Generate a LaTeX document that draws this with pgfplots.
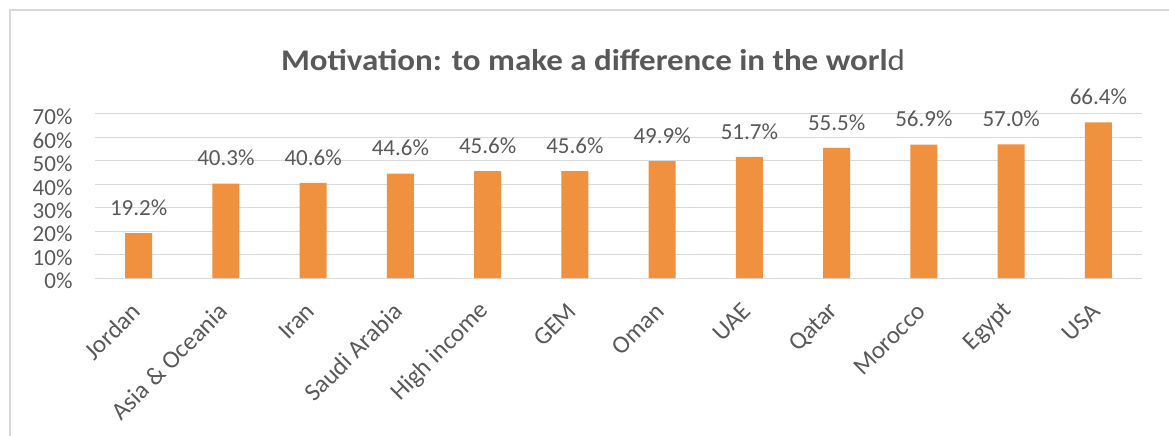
\documentclass[border=0pt]{standalone}
\usepackage{pgfplots}
\pgfplotsset{compat=1.18}
\usepackage{fontspec}
\setmainfont{Carlito}
\newfontfamily\titlefont{Carlito}[FakeStretch=1.1]
\definecolor{barc}{HTML}{F0913F}
\definecolor{txt}{HTML}{595959}
\definecolor{grd}{HTML}{D9D9D9}
\begin{document}
\begin{tikzpicture}
\path[use as bounding box] (0pt,0pt) rectangle (1169pt,436pt);
\draw[grd, line width=1.2pt] (10pt,0pt) -- (10pt,426pt) -- (1169pt,426pt);
\node[txt, font=\titlefont\fontsize{30}{36}\selectfont\bfseries] at (593pt,376pt) {Motivation: to make a difference in the worl{\mdseries d}};
\begin{axis}[
  at={(95pt,158pt)}, anchor=south west, scale only axis,
  width=1047pt, height=164pt,
  ymin=0, ymax=70, xmin=-0.5, xmax=11.5,
  ybar, bar width=27pt,
  axis line style={draw=none},
  major tick length=0pt,
  ytick={0,10,...,70},
  ymajorgrids, grid style={grd, line width=1pt},
  /pgf/number format/assume math mode=true,
  yticklabel={\pgfmathprintnumber{\tick}\%},
  yticklabel style={txt, font=\fontsize{23}{26}\selectfont, anchor=east, xshift=-19pt, yshift=-3pt},
  xtick={0,...,11},
  xticklabels={Jordan, Asia \& Oceania, Iran, Saudi Arabia, High income, GEM, Oman, UAE, Qatar, Morocco, Egypt, USA},
  xticklabel style={txt, font=\fontsize{25}{28}\selectfont, rotate=45, anchor=east, xshift=-19pt, yshift=-19pt},
  nodes near coords={\pgfmathprintnumber[fixed,fixed zerofill,precision=1]{\pgfplotspointmeta}\%},
  nodes near coords style={txt, font=\fontsize{23}{26}\selectfont, yshift=14pt},
  clip=false,
]
\addplot[fill=barc, draw=none] coordinates {
(0,19.2) (1,40.3) (2,40.6) (3,44.6) (4,45.6) (5,45.6) (6,49.9) (7,51.7) (8,55.5) (9,56.9) (10,57.0) (11,66.4)
};
\end{axis}
\end{tikzpicture}
\end{document}
